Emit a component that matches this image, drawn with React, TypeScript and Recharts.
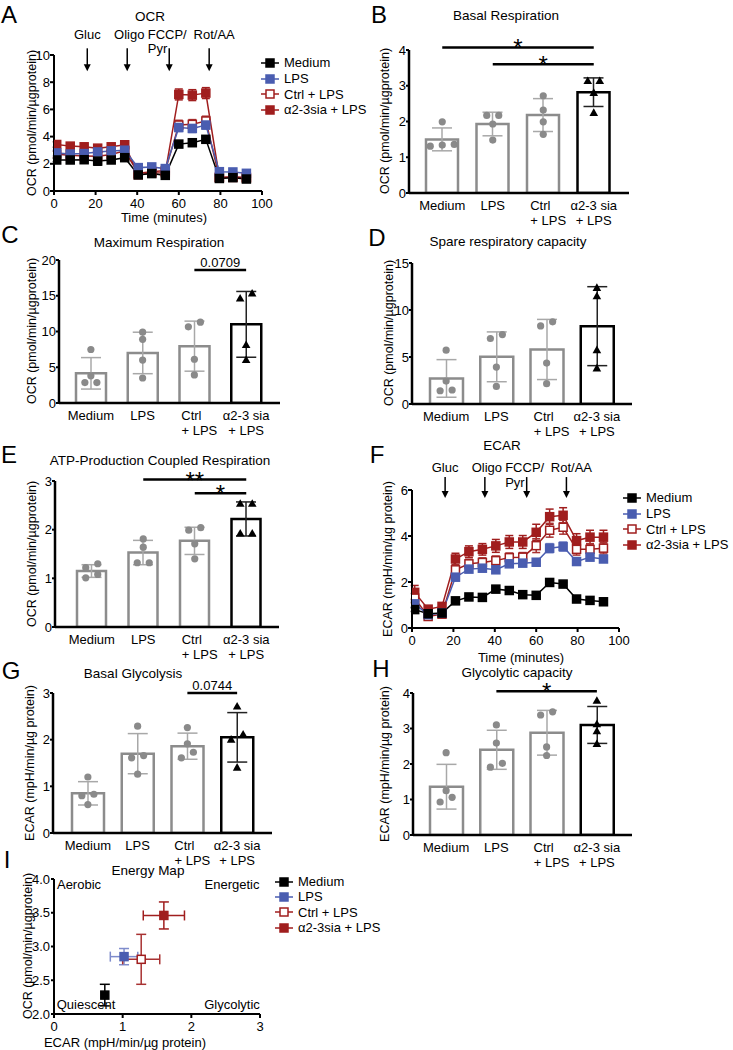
import React from 'react'
import {
  ComposedChart,
  LineChart,
  ScatterChart,
  Bar,
  Line,
  Scatter,
  XAxis,
  YAxis,
  ErrorBar,
  ReferenceLine,
  ReferenceDot,
} from 'recharts'

const FONT = '"Liberation Sans", Arial, Helvetica, sans-serif'
const GRAY = '#8c8c8c'
const GRAY_ERR = '#a8a8a8'
const POINT_GRAY = '#8a8a8a'
const SERIES_COLORS = ['#000000', '#4a5db0', '#a01e1e', '#a01e1e']
const ERR_COLORS = ['#000000', '#7f8ccc', '#a83232', '#a01e1e']
const SERIES_OPEN = [false, false, true, false]
const DRAW_ORDER = [3, 2, 1, 0]

// ---- data ----
const CATEGORIES = ['Medium', 'LPS', 'Ctrl + LPS', 'α2-3 sia + LPS']
const SERIES_NAMES = ['Medium', 'LPS', 'Ctrl + LPS', 'α2-3sia + LPS']

const TIMES = [1.3, 7.8, 14.5, 21, 27.5, 34, 40.5, 47, 53.5, 60, 66.5, 73, 79.5, 86, 92.5]
const TIME_TICKS = [0, 20, 40, 60, 80, 100]
const INJ_LABELS = [['Gluc'], ['Oligo'], ['FCCP/', 'Pyr'], ['Rot/AA']]
const INJ_TIMES = [16, 35.2, 55.4, 74.6]

const OCR_MEDIUM = [2.28, 2.28, 2.3, 2.2, 2.28, 2.45, 1.18, 1.28, 1.15, 3.45, 3.55, 3.8, 0.92, 0.98, 0.88]
const OCR_LPS = [2.8, 2.72, 2.75, 2.87, 2.95, 3.0, 1.72, 1.77, 1.65, 4.67, 4.6, 4.85, 1.42, 1.4, 1.3]
const OCR_CTRL = [2.7, 2.62, 2.58, 2.56, 2.68, 2.95, 1.3, 1.42, 1.5, 4.85, 4.9, 5.15, 1.0, 1.05, 1.0]
const OCR_SIA = [3.42, 3.3, 3.25, 3.15, 3.25, 3.4, 1.2, 1.32, 1.35, 7.1, 7.05, 7.2, 1.0, 1.0, 0.95]
const OCR_MEDIUM_SEM = [0.12, 0.12, 0.12, 0.3, 0.12, 0.12, 0.1, 0.1, 0.1, 0.12, 0.12, 0.15, 0.08, 0.08, 0.08]
const OCR_LPS_SEM = [0.2, 0.2, 0.2, 0.2, 0.2, 0.2, 0.15, 0.15, 0.15, 0.3, 0.3, 0.3, 0.12, 0.12, 0.12]
const OCR_CTRL_SEM = [0.22, 0.22, 0.22, 0.22, 0.22, 0.22, 0.15, 0.15, 0.15, 0.35, 0.35, 0.35, 0.12, 0.12, 0.12]
const OCR_SIA_SEM = [0.2, 0.15, 0.15, 0.15, 0.15, 0.15, 0.1, 0.1, 0.1, 0.4, 0.4, 0.4, 0.1, 0.1, 0.1]

const ECAR_MEDIUM = [0.8, 0.62, 0.65, 1.18, 1.35, 1.33, 1.69, 1.63, 1.45, 1.42, 1.98, 1.91, 1.26, 1.2, 1.14]
const ECAR_LPS = [1.05, 0.58, 0.65, 2.21, 2.56, 2.6, 2.53, 2.79, 2.82, 2.86, 3.47, 3.54, 2.89, 3.08, 3.0]
const ECAR_CTRL = [1.3, 0.5, 0.6, 2.53, 2.79, 2.85, 2.93, 3.06, 3.08, 3.58, 4.25, 4.38, 3.42, 3.42, 3.47]
const ECAR_SIA = [1.55, 0.82, 0.94, 3.0, 3.32, 3.42, 3.57, 3.74, 3.74, 4.16, 4.84, 4.9, 3.8, 3.95, 3.95]
const ECAR_MEDIUM_SEM = [0.08, 0.06, 0.06, 0.06, 0.06, 0.06, 0.06, 0.06, 0.06, 0.06, 0.08, 0.08, 0.06, 0.06, 0.06]
const ECAR_LPS_SEM = [0.12, 0.08, 0.08, 0.15, 0.12, 0.12, 0.12, 0.12, 0.12, 0.15, 0.2, 0.2, 0.15, 0.12, 0.12]
const ECAR_CTRL_SEM = [0.2, 0.1, 0.1, 0.2, 0.2, 0.2, 0.2, 0.2, 0.2, 0.3, 0.3, 0.3, 0.25, 0.25, 0.25]
const ECAR_SIA_SEM = [0.3, 0.12, 0.12, 0.25, 0.25, 0.25, 0.28, 0.28, 0.28, 0.35, 0.33, 0.33, 0.3, 0.3, 0.3]

const BASAL_RESP_MEAN = [1.5, 1.93, 2.18, 2.82]
const BASAL_RESP_SD = [0.32, 0.33, 0.46, 0.4]
const BASAL_RESP_PTS = [[1.31, 1.99, 1.36, 1.34], [2.17, 2.17, 1.93, 1.48], [2.72, 2.32, 1.99, 1.64], [3.13, 3.13, 2.8, 2.24]]
const BASAL_RESP_SIG = [
  { from: 'Medium', to: 'α2-3 sia + LPS', y: 4.07, label: '*' },
  { from: 'LPS', to: 'α2-3 sia + LPS', y: 3.6, label: '*' },
]

const MAX_RESP_MEAN = [4.15, 7.0, 7.95, 11.0]
const MAX_RESP_SD = [2.2, 2.9, 3.5, 4.6]
const MAX_RESP_PTS = [[7.48, 2.85, 2.85, 3.8], [9.9, 8.9, 6.0, 3.5], [10.65, 11.3, 6.12, 3.93], [14.6, 15.3, 8.1, 6.0]]
const MAX_RESP_SIG = [{ from: 'Ctrl + LPS', to: 'α2-3 sia + LPS', y: 18.6, label: '0.0709' }]

const SPARE_MEAN = [2.72, 5.02, 5.8, 8.28]
const SPARE_SD = [2.0, 2.65, 3.2, 4.2]
const SPARE_PTS = [[5.73, 2.44, 1.41, 1.49], [6.97, 7.39, 3.93, 1.87], [8.31, 8.74, 4.35, 2.16], [12.35, 11.46, 5.73, 3.78]]

const ATP_MEAN = [1.15, 1.53, 1.77, 2.22]
const ATP_SD = [0.13, 0.25, 0.28, 0.35]
const ATP_PTS = [[1.22, 1.3, 1.01, 1.08], [1.81, 1.64, 1.32, 1.32], [1.99, 2.04, 1.71, 1.4], [2.53, 2.53, 1.92, 1.92]]
const ATP_SIG = [
  { from: 'LPS', to: 'α2-3 sia + LPS', y: 3.03, label: '**' },
  { from: 'Ctrl + LPS', to: 'α2-3 sia + LPS', y: 2.75, label: '*' },
]

const GLYCO_MEAN = [0.85, 1.7, 1.86, 2.05]
const GLYCO_SD = [0.25, 0.43, 0.28, 0.53]
const GLYCO_PTS = [[1.2, 0.83, 0.8, 0.61], [2.29, 1.66, 1.61, 1.26], [2.26, 1.91, 1.61, 1.73], [2.71, 2.11, 2.0, 1.4]]
const GLYCO_SIG = [{ from: 'Ctrl + LPS', to: 'α2-3 sia + LPS', y: 3.0, label: '0.0744' }]

const GLYCO_CAP_MEAN = [1.36, 2.4, 2.88, 3.1]
const GLYCO_CAP_SD = [0.63, 0.55, 0.63, 0.52]
const GLYCO_CAP_PTS = [[2.32, 1.25, 0.93, 1.06], [3.1, 2.59, 1.91, 2.02], [3.38, 3.47, 2.48, 2.24], [3.78, 3.12, 2.92, 2.56]]
const GLYCO_CAP_SIG = [{ from: 'LPS', to: 'α2-3 sia + LPS', y: 4.05, label: '*' }]

const EM_ECAR = [0.74, 1.02, 1.27, 1.6]
const EM_ECAR_SD = [0, 0.2, 0.27, 0.3]
const EM_OCR = [2.28, 2.85, 2.81, 3.46]
const EM_OCR_SD = [0.16, 0.12, 0.37, 0.2]

// ---- layout ----
const YW = 40
const MT = 40
const XH = 42
const MB = 4
const MR = 12
const AXIS_BAR = { stroke: '#000', strokeWidth: 2.5 }
const AXIS_THIN = { stroke: '#000', strokeWidth: 2 }
const TICK_LINE = { stroke: '#000', strokeWidth: 2 }
const TICK_TEXT = { fontSize: 13, fill: '#000' }

type Sig = { from: string; to: string; y: number; label: string }
type BarLayout = { plot: number[]; pad: number[]; barSize: number }

// spread points with near-equal values sideways, like Prism's scatter
function spread(values: number[], tol: number, gap: number) {
  const order = values.map((_, i) => i).sort((a, b) => values[a] - values[b])
  const offs = values.map(() => 0)
  let start = 0
  for (let k = 1; k <= order.length; k++) {
    if (k === order.length || values[order[k]] - values[order[k - 1]] > tol) {
      const n = k - start
      for (let j = 0; j < n; j++) offs[order[start + j]] = (j - (n - 1) / 2) * gap
      start = k
    }
  }
  return offs
}

function CatTick(props: any) {
  const { x, y, payload } = props
  const parts = String(payload.value).split(' + ')
  // Prism sets the short "Ctrl" a bit left of its "+ LPS" line
  const short = parts[1] && parts[0].length < 5
  return (
    <text x={x} y={y} textAnchor="middle" fontSize={13} fill="#000">
      <tspan x={short ? x - 3 : x} dy={17}>{parts[0]}</tspan>
      {parts[1] ? <tspan x={short ? x + 5 : x} dy={15}>{'+ ' + parts[1]}</tspan> : null}
    </text>
  )
}

function renderPoint(p: any, offsets: number[][], k: number) {
  const gi = CATEGORIES.indexOf(p.payload.name)
  const x = p.cx + offsets[gi][k]
  const y = p.cy
  if (gi === CATEGORIES.length - 1) {
    return <polygon points={`${x},${y - 4.6} ${x - 4.3},${y + 3} ${x + 4.3},${y + 3}`} fill="#000" />
  }
  return <circle cx={x} cy={y} r={3.6} fill={POINT_GRAY} />
}

function BarPanel(props: {
  layout: BarLayout
  yMax: number
  yTicks: number[]
  means: number[]
  sds: number[]
  pts: number[][]
  sigs?: Sig[]
}) {
  const { layout, yMax, yTicks, means, sds, pts, sigs = [] } = props
  const [L, T, R, B] = layout.plot
  const plotH = B - T
  const lastIdx = CATEGORIES.length - 1
  const rows = CATEGORIES.map((name, i) => {
    const row: Record<string, any> = {
      name,
      grayMean: i < lastIdx ? means[i] : undefined,
      graySd: i < lastIdx ? sds[i] : undefined,
      blackMean: i === lastIdx ? means[i] : undefined,
      blackSd: i === lastIdx ? sds[i] : undefined,
    }
    pts[i].forEach((v, k) => {
      row['p' + k] = v
    })
    return row
  })
  const offsets = pts.map((g) => spread(g, (yMax * 6) / plotH, 12))

  return (
    <div style={{ position: 'absolute', left: L - YW, top: T - MT }}>
      <ComposedChart
        width={YW + R - L + MR}
        height={MT + plotH + XH + MB}
        data={rows}
        margin={{ top: MT, right: MR, bottom: MB, left: 0 }}
      >
        <XAxis
          dataKey="name"
          type="category"
          interval={0}
          tickLine={false}
          tickSize={0}
          tickMargin={0}
          axisLine={AXIS_BAR}
          tick={<CatTick />}
          height={XH}
          padding={{ left: layout.pad[0], right: layout.pad[1] }}
        />
        <YAxis
          type="number"
          domain={[0, yMax]}
          ticks={yTicks}
          interval={0}
          allowDataOverflow
          width={YW}
          tickSize={3}
          tickMargin={0}
          axisLine={AXIS_BAR}
          tickLine={TICK_LINE}
          tick={TICK_TEXT}
        />
        <Bar dataKey="grayMean" stackId="m" barSize={layout.barSize} fill="#fff" stroke={GRAY} strokeWidth={2.5} isAnimationActive={false}>
          <ErrorBar dataKey="graySd" direction="y" width={10} stroke={GRAY_ERR} strokeWidth={1.5} />
        </Bar>
        <Bar dataKey="blackMean" stackId="m" barSize={layout.barSize} fill="#fff" stroke="#000" strokeWidth={2.5} isAnimationActive={false}>
          <ErrorBar dataKey="blackSd" direction="y" width={10} stroke="#222" strokeWidth={1.5} />
        </Bar>
        {pts[0].map((_, k) => (
          <Scatter key={k} dataKey={'p' + k} isAnimationActive={false} shape={(p: any) => renderPoint(p, offsets, k)} />
        ))}
        {sigs.map((s, i) => {
          const star = s.label.includes('*')
          return (
            <ReferenceLine
              key={i}
              segment={[{ x: s.from, y: s.y }, { x: s.to, y: s.y }]}
              stroke="#000"
              strokeWidth={2.5}
              ifOverflow="visible"
              label={{ value: s.label, position: 'top', offset: star ? -9 : 3, fontSize: star ? 24 : 13, fill: '#000' }}
            />
          )
        })}
      </ComposedChart>
    </div>
  )
}

const squareDot = (k: number) => (p: any) => (
  <rect
    key={`d${k}-${p.index}`}
    x={p.cx - 4}
    y={p.cy - 4}
    width={8}
    height={8}
    fill={SERIES_OPEN[k] ? '#fff' : SERIES_COLORS[k]}
    stroke={SERIES_COLORS[k]}
    strokeWidth={1.5}
  />
)

const LABEL_DX = [0, 2, -2, 5]

function arrowShape(lines: string[], j: number, a: { len: number; lift: number; lift2: number }) {
  return (p: any) => {
    const { cx, cy } = p
    return (
      <g>
        <line x1={cx} y1={cy - a.len} x2={cx} y2={cy - 6} stroke="#000" strokeWidth={1.5} />
        <polygon points={`${cx - 3.5},${cy - 7} ${cx + 3.5},${cy - 7} ${cx},${cy}`} fill="#000" />
        <text x={cx + LABEL_DX[j]} y={cy - a.lift} textAnchor="middle" fontSize={13} fill="#000">
          {lines[0]}
        </text>
        {lines[1] ? (
          <text x={cx - 2} y={cy - a.lift2} textAnchor="end" fontSize={13} fill="#000">
            {lines[1]}
          </text>
        ) : null}
      </g>
    )
  }
}

function TimePanel(props: {
  plot: number[]
  yMax: number
  yTicks: number[]
  series: number[][]
  errs: number[][]
  arrowY: number
  arrow: { len: number; lift: number; lift2: number }
}) {
  const { plot, yMax, yTicks, series, errs, arrowY, arrow } = props
  const [L, T, R, B] = plot
  const rows = TIMES.map((t, i) => {
    const row: Record<string, number> = { t }
    series.forEach((s, k) => {
      row['v' + k] = s[i]
      row['e' + k] = errs[k][i]
    })
    return row
  })
  return (
    <div style={{ position: 'absolute', left: L - YW, top: T - MT }}>
      <LineChart width={YW + R - L + MR} height={MT + (B - T) + 30 + MB} data={rows} margin={{ top: MT, right: MR, bottom: MB, left: 0 }}>
        <XAxis
          type="number"
          dataKey="t"
          domain={[0, 100]}
          ticks={TIME_TICKS}
          interval={0}
          allowDataOverflow
          height={30}
          tickSize={4}
          tickMargin={4}
          axisLine={AXIS_THIN}
          tickLine={TICK_LINE}
          tick={TICK_TEXT}
        />
        <YAxis
          type="number"
          domain={[0, yMax]}
          ticks={yTicks}
          interval={0}
          allowDataOverflow
          width={YW}
          tickSize={4}
          tickMargin={0}
          axisLine={AXIS_THIN}
          tickLine={TICK_LINE}
          tick={TICK_TEXT}
        />
        {DRAW_ORDER.map((k) => (
          <Line
            key={k}
            dataKey={'v' + k}
            stroke={SERIES_COLORS[k]}
            strokeWidth={1.5}
            dot={squareDot(k)}
            activeDot={false}
            isAnimationActive={false}
          >
            <ErrorBar dataKey={'e' + k} direction="y" width={4} stroke={ERR_COLORS[k]} strokeWidth={1.5} />
          </Line>
        ))}
        {INJ_LABELS.map((lines, j) => (
          <ReferenceDot key={j} x={INJ_TIMES[j]} y={arrowY} r={0} ifOverflow="visible" shape={arrowShape(lines, j, arrow)} />
        ))}
      </LineChart>
    </div>
  )
}

function EnergyMap({ plot }: { plot: number[] }) {
  const [L, T, R, B] = plot
  return (
    <div style={{ position: 'absolute', left: L - YW, top: T - MT }}>
      <ScatterChart width={YW + R - L + MR} height={MT + (B - T) + 30 + MB} margin={{ top: MT, right: MR, bottom: MB, left: 0 }}>
        <XAxis
          type="number"
          dataKey="x"
          domain={[0, 3]}
          ticks={[0, 1, 2, 3]}
          interval={0}
          allowDataOverflow
          height={30}
          tickSize={4}
          tickMargin={4}
          axisLine={AXIS_THIN}
          tickLine={TICK_LINE}
          tick={TICK_TEXT}
        />
        <YAxis
          type="number"
          dataKey="y"
          domain={[2, 4]}
          ticks={[2, 2.5, 3, 3.5, 4]}
          interval={0}
          allowDataOverflow
          width={YW}
          tickSize={3}
          tickMargin={1}
          tickFormatter={(v: number) => v.toFixed(1)}
          axisLine={AXIS_THIN}
          tickLine={TICK_LINE}
          tick={TICK_TEXT}
        />
        {SERIES_NAMES.map((name, k) => (
          <Scatter
            key={name}
            name={name}
            data={[{ x: EM_ECAR[k], y: EM_OCR[k], ex: EM_ECAR_SD[k], ey: EM_OCR_SD[k] }]}
            isAnimationActive={false}
            shape={(p: any) => (
              <rect
                x={p.cx - 4}
                y={p.cy - 4}
                width={8}
                height={8}
                fill={SERIES_OPEN[k] ? '#fff' : SERIES_COLORS[k]}
                stroke={SERIES_COLORS[k]}
                strokeWidth={1.5}
              />
            )}
          >
            <ErrorBar dataKey="ex" direction="x" width={5} stroke={ERR_COLORS[k]} strokeWidth={1.5} />
            <ErrorBar dataKey="ey" direction="y" width={5} stroke={ERR_COLORS[k]} strokeWidth={1.5} />
          </Scatter>
        ))}
      </ScatterChart>
    </div>
  )
}

function SeriesLegend({ left, top, gap }: { left: number; top: number; gap: number }) {
  return (
    <div style={{ position: 'absolute', left, top, fontSize: 13 }}>
      {SERIES_NAMES.map((name, k) => (
        <div key={name} style={{ display: 'flex', alignItems: 'center', height: gap, whiteSpace: 'nowrap' }}>
          <svg width={18} height={10}>
            <line x1={0} y1={5} x2={18} y2={5} stroke={SERIES_COLORS[k]} strokeWidth={1.5} />
            <rect x={5} y={1} width={8} height={8} fill={SERIES_OPEN[k] ? '#fff' : SERIES_COLORS[k]} stroke={SERIES_COLORS[k]} strokeWidth={1.5} />
          </svg>
          <span style={{ marginLeft: 5 }}>{name}</span>
        </div>
      ))}
    </div>
  )
}

function T({ x, y, size = 13, rot = false, children }: { x: number; y: number; size?: number; rot?: boolean; children: React.ReactNode }) {
  return (
    <div
      style={{
        position: 'absolute',
        left: x,
        top: y,
        transform: `translate(-50%, -50%)${rot ? ' rotate(-90deg)' : ''}`,
        fontSize: size,
        lineHeight: 1,
        whiteSpace: 'nowrap',
      }}
    >
      {children}
    </div>
  )
}

const OCR_LABEL = 'OCR (pmol/min/µgprotein)'
const ECAR_LABEL = 'ECAR (mpH/min/µg protein)'

export default function App() {
  return (
    <div
      style={{
        position: 'absolute',
        left: 0,
        top: 0,
        width: 733,
        height: 1050,
        background: '#fff',
        fontFamily: FONT,
        color: '#000',
        overflow: 'hidden',
      }}
    >
      <TimePanel
        plot={[54, 55, 262, 191]}
        yMax={10}
        yTicks={[0, 2, 4, 6, 8, 10]}
        series={[OCR_MEDIUM, OCR_LPS, OCR_CTRL, OCR_SIA]}
        errs={[OCR_MEDIUM_SEM, OCR_LPS_SEM, OCR_CTRL_SEM, OCR_SIA_SEM]}
        arrowY={8.8}
        arrow={{ len: 23, lift: 32.5, lift2: 18.5 }}
      />
      <SeriesLegend left={261} top={55} gap={15.7} />

      <BarPanel layout={{ plot: [409, 50, 629, 193], pad: [8, 10], barSize: 32 }} yMax={4} yTicks={[0, 1, 2, 3, 4]}
        means={BASAL_RESP_MEAN} sds={BASAL_RESP_SD} pts={BASAL_RESP_PTS} sigs={BASAL_RESP_SIG} />
      <BarPanel layout={{ plot: [59, 260, 280, 403], pad: [6, 8], barSize: 30 }} yMax={20} yTicks={[0, 5, 10, 15, 20]}
        means={MAX_RESP_MEAN} sds={MAX_RESP_SD} pts={MAX_RESP_PTS} sigs={MAX_RESP_SIG} />
      <BarPanel layout={{ plot: [412, 263, 632, 404], pad: [9, 10], barSize: 33 }} yMax={15} yTicks={[0, 5, 10, 15]}
        means={SPARE_MEAN} sds={SPARE_SD} pts={SPARE_PTS} />
      <BarPanel layout={{ plot: [55, 481, 279, 627], pad: [11, 7], barSize: 29 }} yMax={3} yTicks={[0, 1, 2, 3]}
        means={ATP_MEAN} sds={ATP_SD} pts={ATP_PTS} sigs={ATP_SIG} />

      <TimePanel
        plot={[412, 490, 619, 628]}
        yMax={6}
        yTicks={[0, 2, 4, 6]}
        series={[ECAR_MEDIUM, ECAR_LPS, ECAR_CTRL, ECAR_SIA]}
        errs={[ECAR_MEDIUM_SEM, ECAR_LPS_SEM, ECAR_CTRL_SEM, ECAR_SIA_SEM]}
        arrowY={5.65}
        arrow={{ len: 21, lift: 26.5, lift2: 11.5 }}
      />
      <SeriesLegend left={623} top={490} gap={15.7} />

      <BarPanel layout={{ plot: [53, 693, 272, 833], pad: [10, 10], barSize: 32 }} yMax={3} yTicks={[0, 1, 2, 3]}
        means={GLYCO_MEAN} sds={GLYCO_SD} pts={GLYCO_PTS} sigs={GLYCO_SIG} />
      <BarPanel layout={{ plot: [413, 693, 632, 835], pad: [8, 10], barSize: 33 }} yMax={4} yTicks={[0, 1, 2, 3, 4]}
        means={GLYCO_CAP_MEAN} sds={GLYCO_CAP_SD} pts={GLYCO_CAP_PTS} sigs={GLYCO_CAP_SIG} />

      <EnergyMap plot={[54, 879, 260, 1014]} />
      <SeriesLegend left={275} top={874} gap={15.3} />

      {/* panel letters */}
      <T x={9} y={15} size={24}>A</T>
      <T x={379} y={15} size={24}>B</T>
      <T x={10} y={235} size={24}>C</T>
      <T x={377} y={238} size={24}>D</T>
      <T x={9} y={455} size={24}>E</T>
      <T x={377} y={455} size={24}>F</T>
      <T x={11} y={671} size={24}>G</T>
      <T x={381} y={669} size={24}>H</T>
      <T x={7} y={860} size={24}>I</T>

      {/* titles */}
      <T x={150} y={17} size={13.5}>OCR</T>
      <T x={506} y={16} size={13.5}>Basal Respiration</T>
      <T x={159} y={243} size={13.5}>Maximum Respiration</T>
      <T x={508} y={242} size={13.5}>Spare respiratory capacity</T>
      <T x={160} y={461} size={13.5}>ATP-Production Coupled Respiration</T>
      <T x={502} y={446} size={13.5}>ECAR</T>
      <T x={133} y={674} size={13.5}>Basal Glycolysis</T>
      <T x={517} y={673} size={13.5}>Glycolytic capacity</T>
      <T x={148} y={871} size={13.5}>Energy Map</T>

      {/* axis titles */}
      <T x={32} y={123} size={12.5} rot>{OCR_LABEL}</T>
      <T x={385} y={121} size={12.5} rot>{OCR_LABEL}</T>
      <T x={32} y={331} size={12.5} rot>{OCR_LABEL}</T>
      <T x={389} y={333} size={12.5} rot>{OCR_LABEL}</T>
      <T x={32} y={554} size={12.5} rot>{OCR_LABEL}</T>
      <T x={388} y={559} size={12.5} rot>{ECAR_LABEL}</T>
      <T x={30} y={763} size={12.5} rot>{ECAR_LABEL}</T>
      <T x={385} y={764} size={12.5} rot>{ECAR_LABEL}</T>
      <T x={28} y={946} size={12.5} rot>{OCR_LABEL}</T>
      <T x={164} y={217}>Time (minutes)</T>
      <T x={521} y={657}>Time (minutes)</T>
      <T x={125} y={1042}>ECAR (mpH/min/µg protein)</T>

      {/* energy map quadrants */}
      <T x={79} y={884}>Aerobic</T>
      <T x={232} y={884}>Energetic</T>
      <T x={86} y={1004}>Quiescent</T>
      <T x={232} y={1004}>Glycolytic</T>
    </div>
  )
}
